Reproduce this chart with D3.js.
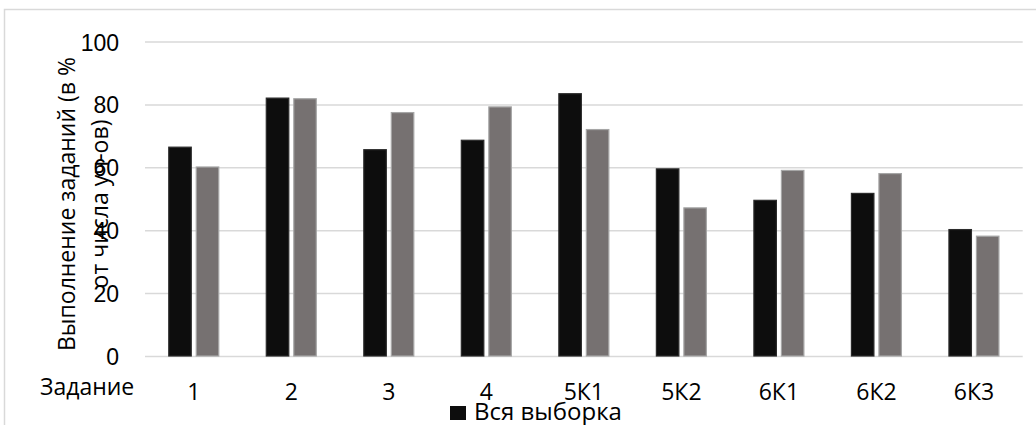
<!DOCTYPE html>
<html>
<head>
<meta charset="utf-8">
<script src="https://cdn.jsdelivr.net/npm/d3@7"></script>
<style>
  html, body { margin: 0; padding: 0; background: #fff; }
  svg { display: block; }
</style>
</head>
<body>
<svg id="chart" width="1036" height="425"></svg>
<script>
const categories = ["1", "2", "3", "4", "5К1", "5К2", "6К1", "6К2", "6К3"];
const seriesNames = ["Вся выборка", "Подвыборка"];
const seriesAll = [66.4, 82.0, 65.6, 68.6, 83.4, 59.5, 49.5, 51.7, 40.2];
const seriesSub = [60.1, 81.8, 77.4, 79.2, 72.0, 47.1, 59.0, 58.0, 38.1];
const yTicks = [0, 20, 40, 60, 80, 100];
const xAxisTitle = "Задание";
const yTitleLines = ["Выполнение заданий (в %", "от числа уч-ов)"];
const colors = ["#0d0d0d", "#767171"];
const strokes = ["#2b2b2b", "#a6a6a6"];

const svg = d3.select("#chart");
const plotLeft = 145, plotRight = 1022.7, plotTop = 41.5, plotBottom = 356;

// chart border
svg.append("rect")
  .attr("x", 4.5).attr("y", 9.5)
  .attr("width", 1100).attr("height", 500)
  .attr("fill", "#fff").attr("stroke", "#d9d9d9").attr("stroke-width", 1.5);

const x = d3.scaleBand().domain(categories).range([plotLeft, plotRight]).paddingInner(0).paddingOuter(0);
const xs = d3.scaleBand().domain(seriesNames).range([0, x.bandwidth()])
  .paddingInner(0.182).paddingOuter(0.864);
const y = d3.scaleLinear().domain([0, 100]).range([plotBottom, plotTop]);

// y axis + gridlines
const yAxis = svg.append("g")
  .attr("transform", `translate(${plotLeft},0)`)
  .call(d3.axisLeft(y).tickValues(yTicks).tickSize(-(plotRight - plotLeft)).tickPadding(26));
yAxis.select(".domain").remove();
yAxis.selectAll(".tick line").attr("stroke", "#d9d9d9").attr("stroke-width", 1.5);
yAxis.selectAll(".tick text")
  .attr("font-family", "'Liberation Sans', Arial, sans-serif")
  .attr("font-size", 23).attr("fill", "#000").attr("dy", "0.37em");

// bars
const data = seriesNames.map((name, i) => ({
  name, color: colors[i], stroke: strokes[i],
  values: (i === 0 ? seriesAll : seriesSub).map((v, j) => ({ cat: categories[j], v }))
}));
data.forEach(s => {
  svg.append("g").selectAll("rect").data(s.values).join("rect")
    .attr("x", d => x(d.cat) + xs(s.name))
    .attr("width", xs.bandwidth())
    .attr("y", d => y(d.v))
    .attr("height", d => y(0) - y(d.v))
    .attr("fill", s.color)
    .attr("stroke", s.stroke)
    .attr("stroke-width", 1.2);
});

// x axis labels
const xAxis = svg.append("g")
  .attr("transform", `translate(0,${plotBottom})`)
  .call(d3.axisBottom(x).tickSize(0).tickPadding(28));
xAxis.select(".domain").remove();
xAxis.selectAll(".tick text")
  .attr("font-family", "'Open Sans', sans-serif")
  .attr("font-size", 23).attr("fill", "#000");

// x title
svg.append("text")
  .attr("x", 40).attr("y", 395)
  .attr("font-family", "'Open Sans', sans-serif")
  .attr("font-size", 23).attr("fill", "#000")
  .text(xAxisTitle);

// y title
const yt = svg.append("text")
  .attr("transform", "translate(75,204) rotate(-90)")
  .attr("text-anchor", "middle")
  .attr("font-family", "'Open Sans', sans-serif")
  .attr("font-size", 23).attr("fill", "#000");
yTitleLines.forEach((line, i) => {
  yt.append("tspan").attr("x", 0).attr("dy", i === 0 ? 0 : 33).text(line);
});

// legend (first entry visible)
const lg = svg.append("g").attr("transform", "translate(450,406)");
lg.append("rect").attr("width", 16).attr("height", 14).attr("fill", colors[0]);
lg.append("text").attr("x", 24).attr("y", 14)
  .attr("font-family", "'Open Sans', sans-serif")
  .attr("font-size", 24).attr("fill", "#000")
  .text(seriesNames[0]);
</script>
</body>
</html>
